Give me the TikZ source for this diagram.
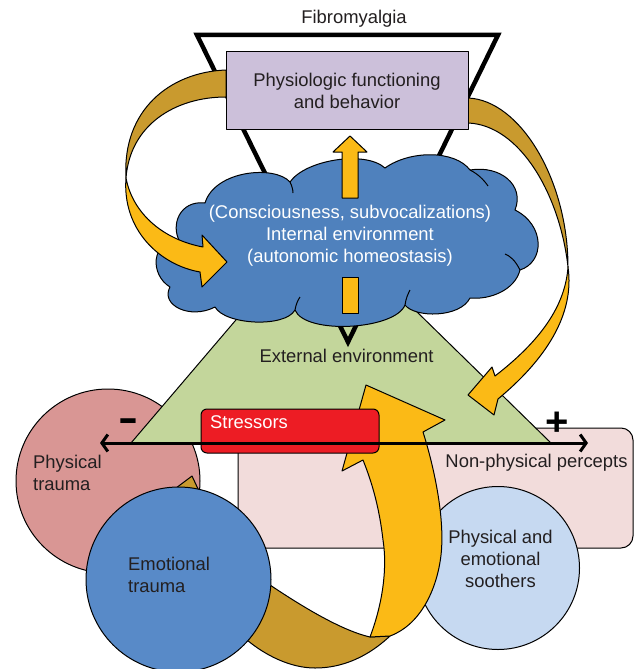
\documentclass[tikz,border=0pt]{standalone}
\usepackage{fontspec}
\setmainfont{Liberation Sans}
\usetikzlibrary{arrows.meta}

\definecolor{ink}{HTML}{231F20}
\definecolor{lav}{HTML}{CCC0DA}
\definecolor{cloudblue}{HTML}{4F81BD}
\definecolor{emoblue}{HTML}{588AC8}
\definecolor{grass}{HTML}{C3D69B}
\definecolor{stressred}{HTML}{ED1C24}
\definecolor{percept}{HTML}{F2DCDB}
\definecolor{physpink}{HTML}{D99694}
\definecolor{soothe}{HTML}{C6D9F1}
\definecolor{gold}{HTML}{FBBA16}
\definecolor{darkgold}{HTML}{C99A2E}

\begin{document}
\begin{tikzpicture}[x=1pt,y=-1pt,
  ol/.style={draw=black, line width=1pt, line join=round},
  txt/.style={font=\fontsize{18.4}{22}\selectfont, text=ink, inner sep=0pt, align=center},
  wtxt/.style={txt, text=white},
  barb/.tip={Straight Barb[length=6pt,width=17pt]},
]
\useasboundingbox (0,0) rectangle (638,669);
\fill[white] (0,0) rectangle (638,669);

% --- lower layer: percept circles and panel
\draw[ol, fill=physpink] (108,481) circle[radius=92];
\draw[ol, fill=percept, rounded corners=12] (238,428) rectangle (633,548);
\draw[ol, fill=soothe] (498,568) circle[radius=81.5];

% --- external environment triangle
\draw[ol, fill=grass] (131,443) -- (322,219) -- (551,443) -- cycle;

% --- fibromyalgia funnel
\draw[line width=4.5pt, line join=miter] (197,35) -- (498,35) -- (348,342) -- cycle;

% --- internal environment cloud
\draw[ol, fill=cloudblue]
  (215,307)
  .. controls (190,320) and (160,305) .. (170,287)
  .. controls (150,275) and (150,240) .. (180,242)
  .. controls (170,225) and (180,200) .. (205,203)
  .. controls (215,170) and (275,165) .. (290,182)
  .. controls (305,160) and (365,150) .. (385,168)
  .. controls (410,150) and (455,150) .. (470,170)
  .. controls (500,165) and (525,185) .. (515,210)
  .. controls (545,225) and (545,262) .. (520,270)
  .. controls (515,290) and (490,300) .. (470,298)
  .. controls (460,318) and (415,318) .. (405,305)
  .. controls (395,330) and (305,335) .. (295,310)
  .. controls (285,328) and (225,325) .. (215,307)
  -- cycle;
% small folds inside the cloud
\draw[line width=1pt] (180,242) .. controls (186,246) and (190,250) .. (192,254);
\draw[line width=1pt] (290,182) .. controls (292,186) and (293,190) .. (293,193);
\draw[line width=1pt] (470,170) .. controls (478,174) and (484,180) .. (488,186);
\draw[line width=1pt] (520,270) .. controls (515,260) and (510,256) .. (505,254);
\draw[line width=1pt] (405,305) .. controls (406,298) and (408,294) .. (410,290);
\draw[line width=1pt] (295,310) .. controls (296,304) and (298,300) .. (300,297);

% upward arrow from the cloud to behaviour (split around the text)
\draw[ol, fill=gold] (342,198) -- (342,152) -- (333,152) -- (350,136) -- (367,152)
  -- (358,152) -- (358,198) -- cycle;
\draw[ol, fill=gold] (342,277) rectangle (358,313);

% --- left feedback ribbon (behaviour -> internal environment)
\draw[ol, fill=darkgold] (226,70) .. controls (170,72) and (122,110) .. (126,178)
  .. controls (130,125) and (175,97) .. (226,97) -- cycle;
\draw[ol, fill=gold] (126,178) .. controls (122,230) and (160,265) .. (200,272)
  -- (202,287) -- (227,262) -- (202,235) -- (203,247)
  .. controls (165,240) and (133,215) .. (126,178) -- cycle;

% --- right feedback ribbon (behaviour -> external environment)
\draw[ol, fill=darkgold] (468,98) .. controls (520,100) and (568,180) .. (568,267)
  .. controls (560,195) and (520,125) .. (468,123) -- cycle;
\draw[ol, fill=gold] (568,267) .. controls (575,315) and (545,360) .. (498,399)
  -- (494,415) -- (468,395) -- (492,367) -- (495,376)
  .. controls (535,345) and (565,310) .. (568,267) -- cycle;

% --- behaviour box
\node[ol, fill=lav, minimum width=242pt, minimum height=77pt, inner sep=0pt]
  (behav) at (347,90.5) {};
\node[txt, anchor=base] (behavtxt) at (347,108) {Physiologic functioning\\and behavior};

% --- trauma ribbon (back face)
\draw[ol, fill=darkgold] (192,476) -- (199,491)
  .. controls (230,520) and (255,560) .. (270,585)
  .. controls (300,605) and (340,630) .. (370,637)
  -- (390,636)
  .. controls (375,650) and (350,668) .. (315,668)
  .. controls (290,668) and (265,655) .. (247,640)
  .. controls (220,600) and (190,540) .. (176,488) -- cycle;

\draw[ol, fill=emoblue] (178.5,579.5) circle[radius=92.5];

% --- trauma ribbon (front face, arrow up to the stressors)
\draw[ol, fill=gold] (370,637)
  .. controls (384,600) and (387,565) .. (383,540)
  .. controls (379,505) and (371,480) .. (363,460)
  -- (342,471) -- (366,385) -- (445,420) -- (423,432)
  .. controls (435,470) and (445,520) .. (441,555)
  .. controls (437,590) and (420,625) .. (390,636) -- cycle;

% --- stressors bar
\node[ol, fill=stressred, rounded corners=6, minimum width=178pt, minimum height=44pt,
  inner sep=0pt] (stress) at (290,431) {};
\node[wtxt, anchor=base] (stresstxt) at (249,428) {Stressors};

% --- negative / positive axis
\coordinate (negend) at (100,443);
\coordinate (posend) at (588,443);
\draw[line width=3pt, barb-barb] (negend) -- (posend);
\node[inner sep=0pt, anchor=base, font=\fontsize{40}{40}\selectfont\bfseries]
  (minus) at (128,431) {\scalebox{1.5}[1]{-}};
\node[inner sep=0pt, anchor=base, font=\fontsize{40}{40}\selectfont\bfseries]
  (plus) at (557,435) {+};

% --- labels
\node[txt, anchor=base] (fibro) at (354,24) {Fibromyalgia};
\node[wtxt, anchor=base] (cloudtxt) at (350,262)
  {(Consciousness, subvocalizations)\\Internal environment\\(autonomic homeostasis)};
\node[txt, anchor=base] (exttxt) at (346.5,362) {External environment};
\node[txt, anchor=base west, align=left] (phystxt) at (33,490) {Physical\\trauma};
\node[txt, anchor=base west, align=left] (emotxt) at (128,592) {Emotional\\trauma};
\node[txt, anchor=base] (perctxt) at (536.5,467) {Non-physical percepts};
\node[txt, anchor=base] (soothtxt) at (500.5,587) {Physical and\\emotional\\soothers};
\end{tikzpicture}
\end{document}
